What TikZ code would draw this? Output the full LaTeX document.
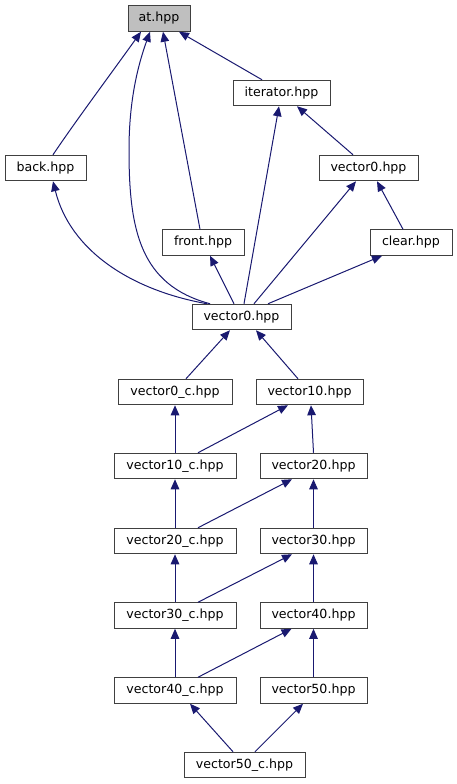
\documentclass[tikz,border=0pt]{standalone}
\usepackage{fontspec}
\setmainfont{DejaVu Sans}
\usetikzlibrary{arrows.meta}
\definecolor{edgec}{RGB}{25,25,112}
\definecolor{boxc}{RGB}{64,64,64}
\definecolor{rootfill}{RGB}{191,191,191}
\tikzset{
  box/.style={draw=boxc, line width=1pt, fill=white, minimum height=25.5pt, inner sep=0pt,
    font=\fontsize{12.6}{15}\selectfont},
  edge/.style={draw=edgec, line width=1pt, -{Triangle[length=10pt,width=8.5pt]}, fill=none},
}
\begin{document}
\begin{tikzpicture}[x=1pt,y=-1pt]
\useasboundingbox (0,0) rectangle (457,784);
% nodes
\node[box, fill=rootfill, minimum width=62pt] (at) at (159,18.5) {at.hpp};
\node[box, minimum width=97pt] (iter) at (281.5,93) {iterator.hpp};
\node[box, minimum width=81pt] (back) at (45.5,168) {back.hpp};
\node[box, minimum width=99pt] (vzu) at (368.5,168) {vector0.hpp};
\node[box, minimum width=82pt] (front) at (203,242.5) {front.hpp};
\node[box, minimum width=82pt] (clear) at (411,242.5) {clear.hpp};
\node[box, minimum width=99pt] (vz) at (241.5,317) {vector0.hpp};
\node[box, minimum width=114pt] (vzc) at (175,392) {vector0\_c.hpp};
\node[box, minimum width=107pt] (v10) at (309.5,392) {vector10.hpp};
\node[box, minimum width=122pt] (v10c) at (175,466) {vector10\_c.hpp};
\node[box, minimum width=107pt] (v20) at (313.5,466) {vector20.hpp};
\node[box, minimum width=122pt] (v20c) at (175,541) {vector20\_c.hpp};
\node[box, minimum width=107pt] (v30) at (313.5,541) {vector30.hpp};
\node[box, minimum width=122pt] (v30c) at (175,615.5) {vector30\_c.hpp};
\node[box, minimum width=107pt] (v40) at (313.5,615.5) {vector40.hpp};
\node[box, minimum width=122pt] (v40c) at (175,690.5) {vector40\_c.hpp};
\node[box, minimum width=107pt] (v50) at (313.5,690.5) {vector50.hpp};
\node[box, minimum width=121pt] (v50c) at (244.5,765) {vector50\_c.hpp};
% edges (arrow at included-by parent)
\draw[edge] ([xshift=7.5pt]back.north) .. controls (75,122) and (110,75) .. ([xshift=-18pt]at.south);
\coordinate (bend) at (129,150);
\draw[edge] ([xshift=-31.5pt]vz.north) .. controls (140,285) and (129,230) .. (bend) .. controls (129,100) and (138,65) .. ([xshift=-9pt]at.south);
\draw[edge] ([xshift=-3pt]front.north) -- ([xshift=4pt]at.south);
\draw[edge] ([xshift=-19.5pt]iter.north) -- ([xshift=20pt]at.south);
\draw[edge] ([xshift=-15.5pt]vzu.north) -- ([xshift=15.5pt]iter.south);
\draw[edge] ([xshift=2.5pt]vz.north) -- ([xshift=-2.5pt]iter.south);
\draw[edge] ([xshift=-34.5pt]vz.north) .. controls (130,290) and (70,250) .. ([xshift=7.5pt]back.south);
\draw[edge] ([xshift=-7.5pt]vz.north) -- ([xshift=7pt]front.south);
\draw[edge] ([xshift=12.5pt]vz.north) -- ([xshift=-12.5pt]vzu.south);
\draw[edge] ([xshift=26.5pt]vz.north) -- ([xshift=-29pt]clear.south);
\draw[edge] ([xshift=-8pt]clear.north) -- ([xshift=8.5pt]vzu.south);
\draw[edge] ([xshift=11pt]vzc.north) -- ([xshift=-11.5pt]vz.south);
\draw[edge] ([xshift=-11.5pt]v10.north) -- ([xshift=14.5pt]vz.south);
\draw[edge] (v10c.north) -- (vzc.south);
\draw[edge] ([xshift=23pt]v10c.north) -- ([xshift=-21.5pt]v10.south);
\draw[edge] (v20.north) -- ([xshift=1.5pt]v10.south);
\draw[edge] (v20c.north) -- (v10c.south);
\draw[edge] ([xshift=23pt]v20c.north) -- ([xshift=-21.5pt]v20.south);
\draw[edge] (v30.north) -- (v20.south);
\draw[edge] (v30c.north) -- (v20c.south);
\draw[edge] ([xshift=23pt]v30c.north) -- ([xshift=-21.5pt]v30.south);
\draw[edge] (v40.north) -- (v30.south);
\draw[edge] (v40c.north) -- (v30c.south);
\draw[edge] ([xshift=23pt]v40c.north) -- ([xshift=-22pt]v40.south);
\draw[edge] (v50.north) -- (v40.south);
\draw[edge] ([xshift=-11.5pt]v50c.north) -- ([xshift=15pt]v40c.south);
\draw[edge] ([xshift=10.5pt]v50c.north) -- ([xshift=-10.5pt]v50.south);
\end{tikzpicture}
\end{document}
